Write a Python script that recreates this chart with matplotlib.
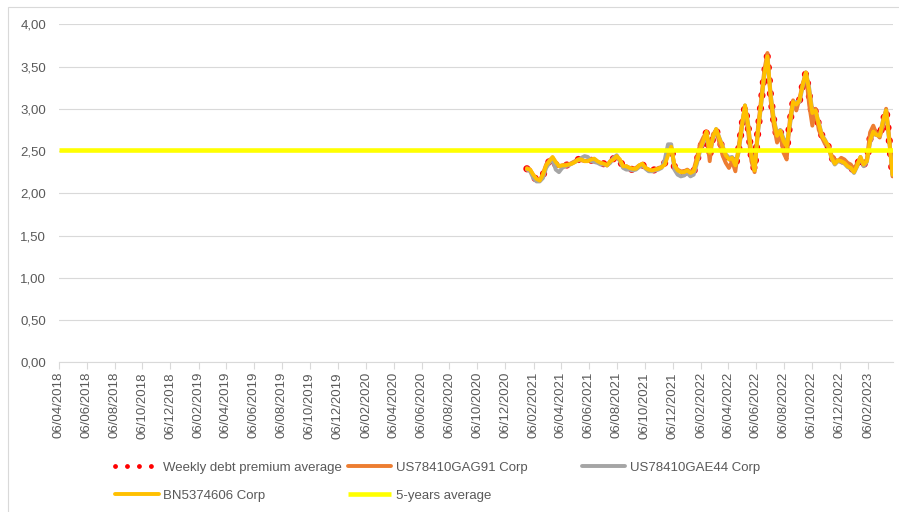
import numpy as np
import pandas as pd
import matplotlib
matplotlib.use('Agg')
import matplotlib.pyplot as plt
import matplotlib.dates as mdates
from matplotlib.ticker import FuncFormatter
from matplotlib.lines import Line2D
from matplotlib.patches import Rectangle

# weekly fridays, series start in jan 2021
dates = pd.date_range('2021-01-22', periods=115, freq='7D')
axis_start = pd.Timestamp('2018-04-06')
axis_end = pd.Timestamp('2023-03-31')

avg_weekly = [2.29, 2.27, 2.20, 2.16, 2.15, 2.21, 2.32, 2.38, 2.42, 2.34,
              2.30, 2.32, 2.33, 2.34, 2.35, 2.37, 2.40, 2.40, 2.40, 2.40,
              2.39, 2.39, 2.37, 2.35, 2.35, 2.33, 2.37, 2.41, 2.44, 2.39,
              2.31, 2.31, 2.29, 2.28, 2.29, 2.32, 2.34, 2.30, 2.27, 2.27,
              2.28, 2.29, 2.31, 2.36, 2.50, 2.56, 2.31, 2.26, 2.24, 2.24,
              2.26, 2.23, 2.25, 2.38, 2.53, 2.63, 2.72, 2.45, 2.67, 2.75,
              2.64, 2.52, 2.42, 2.37, 2.41, 2.31, 2.51, 2.79, 3.03, 2.78,
              2.43, 2.27, 2.73, 3.06, 3.41, 3.63, 3.14, 2.85, 2.66, 2.73,
              2.58, 2.51, 2.84, 3.08, 3.04, 3.10, 3.28, 3.43, 3.17, 2.91,
              2.98, 2.80, 2.68, 2.61, 2.55, 2.43, 2.36, 2.38, 2.39, 2.37,
              2.33, 2.31, 2.26, 2.34, 2.42, 2.34, 2.38, 2.65, 2.75, 2.69,
              2.67, 2.84, 2.99, 2.62, 2.21]

gag91 = [2.30, 2.28, 2.21, 2.16, 2.15, 2.23, 2.34, 2.39, 2.42, 2.36,
         2.32, 2.33, 2.34, 2.34, 2.36, 2.38, 2.40, 2.39, 2.38, 2.39,
         2.40, 2.40, 2.37, 2.36, 2.35, 2.33, 2.38, 2.41, 2.43, 2.39,
         2.31, 2.32, 2.30, 2.29, 2.30, 2.33, 2.34, 2.30, 2.28, 2.27,
         2.28, 2.30, 2.31, 2.35, 2.47, 2.54, 2.33, 2.28, 2.26, 2.26,
         2.28, 2.25, 2.28, 2.42, 2.58, 2.66, 2.72, 2.38, 2.70, 2.74,
         2.60, 2.45, 2.36, 2.30, 2.38, 2.26, 2.55, 2.82, 3.02, 2.72,
         2.38, 2.25, 2.76, 3.10, 3.45, 3.66, 3.10, 2.80, 2.60, 2.70,
         2.48, 2.40, 2.88, 3.10, 2.98, 3.12, 3.30, 3.42, 3.05, 2.80,
         3.00, 2.75, 2.66, 2.58, 2.55, 2.45, 2.40, 2.38, 2.42, 2.40,
         2.36, 2.34, 2.28, 2.36, 2.40, 2.36, 2.40, 2.72, 2.80, 2.70,
         2.66, 2.80, 3.00, 2.65, 2.20]

gae44 = [2.28, 2.26, 2.18, 2.14, 2.14, 2.18, 2.30, 2.36, 2.40, 2.28,
         2.25, 2.30, 2.32, 2.33, 2.35, 2.37, 2.39, 2.42, 2.44, 2.43,
         2.38, 2.37, 2.36, 2.34, 2.34, 2.33, 2.36, 2.42, 2.45, 2.38,
         2.30, 2.28, 2.28, 2.27, 2.28, 2.31, 2.33, 2.29, 2.26, 2.26,
         2.27, 2.28, 2.30, 2.40, 2.58, 2.58, 2.28, 2.22, 2.20, 2.21,
         2.24, 2.20, 2.22, 2.35, 2.50, 2.60, 2.72, 2.50, 2.64, 2.76,
         2.66, 2.56, 2.46, 2.42, 2.43, 2.35, 2.48, 2.76, 3.04, 2.82,
         2.47, 2.28, 2.70, 3.03, 3.38, 3.60, 3.18, 2.88, 2.70, 2.75,
         2.65, 2.58, 2.80, 3.06, 3.08, 3.08, 3.26, 3.43, 3.25, 2.98,
         2.97, 2.84, 2.69, 2.63, 2.55, 2.41, 2.34, 2.38, 2.37, 2.35,
         2.31, 2.29, 2.24, 2.32, 2.43, 2.32, 2.37, 2.60, 2.72, 2.69,
         2.68, 2.86, 2.98, 2.60, 2.22]

bn5374606 = [2.29, 2.28, 2.22, 2.17, 2.15, 2.22, 2.33, 2.38, 2.43, 2.37,
             2.32, 2.33, 2.33, 2.34, 2.35, 2.37, 2.40, 2.40, 2.38, 2.38,
             2.40, 2.41, 2.38, 2.36, 2.35, 2.33, 2.38, 2.40, 2.44, 2.40,
             2.32, 2.32, 2.30, 2.29, 2.29, 2.33, 2.35, 2.30, 2.28, 2.27,
             2.28, 2.29, 2.31, 2.34, 2.45, 2.55, 2.33, 2.27, 2.25, 2.25,
             2.27, 2.24, 2.26, 2.38, 2.52, 2.62, 2.73, 2.48, 2.66, 2.76,
             2.65, 2.55, 2.45, 2.40, 2.42, 2.33, 2.50, 2.78, 3.04, 2.80,
             2.45, 2.27, 2.72, 3.05, 3.40, 3.62, 3.15, 2.86, 2.68, 2.74,
             2.62, 2.55, 2.83, 3.08, 3.05, 3.10, 3.28, 3.43, 3.22, 2.95,
             2.98, 2.82, 2.68, 2.62, 2.56, 2.42, 2.35, 2.39, 2.38, 2.36,
             2.32, 2.30, 2.25, 2.33, 2.43, 2.34, 2.38, 2.62, 2.73, 2.69,
             2.68, 2.85, 2.98, 2.62, 2.22]

five_year_avg = 2.51

plt.rcParams['font.family'] = ['Liberation Sans', 'DejaVu Sans']
txt_color = '#595959'
grid_color = '#D9D9D9'

fig = plt.figure(figsize=(8.99, 5.12), dpi=100)
ax = fig.add_axes([0.0652, 0.2924, 0.9276, 0.6602])

l_avg, = ax.plot(dates, avg_weekly, color='#FF0000', lw=5.2,
                 linestyle=(0, (0.01, 1.8)), dash_capstyle='round', zorder=2)
l_gag, = ax.plot(dates, gag91, color='#ED7D31', lw=2.8,
                 solid_joinstyle='round', solid_capstyle='round', zorder=3)
l_gae, = ax.plot(dates, gae44, color='#A5A5A5', lw=2.8,
                 solid_joinstyle='round', solid_capstyle='round', zorder=4)
l_bn, = ax.plot(dates, bn5374606, color='#FFC000', lw=2.8,
                solid_joinstyle='round', solid_capstyle='round', zorder=5)
l_5y, = ax.plot([axis_start, axis_end], [five_year_avg, five_year_avg],
                color='#FFFF00', lw=3.3, solid_capstyle='butt', zorder=6)

ax.set_xlim(axis_start, axis_end)
ax.set_ylim(0, 4)
ax.set_yticks(np.arange(0, 4.01, 0.5))
ax.yaxis.set_major_formatter(FuncFormatter(lambda v, p: f'{v:.2f}'.replace('.', ',')))

tick_dates = pd.date_range(axis_start, axis_end, freq=pd.DateOffset(months=2))
ax.set_xticks(tick_dates)
ax.xaxis.set_major_formatter(mdates.DateFormatter('%d/%m/%Y'))

ax.yaxis.grid(True, color=grid_color, lw=0.8)
ax.set_axisbelow(True)
for s in ['left', 'right', 'top']:
    ax.spines[s].set_visible(False)
ax.spines['bottom'].set_color(grid_color)
ax.spines['bottom'].set_linewidth(0.8)

ax.tick_params(axis='y', length=0, pad=9, labelcolor=txt_color, labelsize=9.5)
ax.tick_params(axis='x', length=5, width=0.8, color=grid_color, pad=2,
               labelcolor=txt_color, labelsize=9.5, labelrotation=90)

# legend laid out like excel: three columns placed by hand
dot_handle = Line2D([], [], color='#FF0000', lw=3.5,
                    linestyle=(0, (0.01, 2.45)), dash_capstyle='round')
leg_kw = dict(loc='upper left', frameon=False, fontsize=9.5, labelcolor=txt_color,
              handlelength=3.3, handletextpad=0.35, labelspacing=1.2,
              borderpad=0, borderaxespad=0)
fig.legend([dot_handle, l_bn], ['Weekly debt premium average', 'BN5374606 Corp'],
           bbox_to_anchor=(0.128, 0.099), **leg_kw)
fig.legend([l_gag, l_5y], ['US78410GAG91 Corp', '5-years average'],
           bbox_to_anchor=(0.387, 0.099), **leg_kw)
fig.legend([l_gae], ['US78410GAE44 Corp'],
           bbox_to_anchor=(0.647, 0.099), **leg_kw)

# chart area frame
fig.add_artist(Rectangle((8 / 899, -0.1), 1.0, 1.1 - 7 / 512, transform=fig.transFigure,
                         fill=False, ec=grid_color, lw=0.8))

fig.savefig('out.png', dpi=100)
